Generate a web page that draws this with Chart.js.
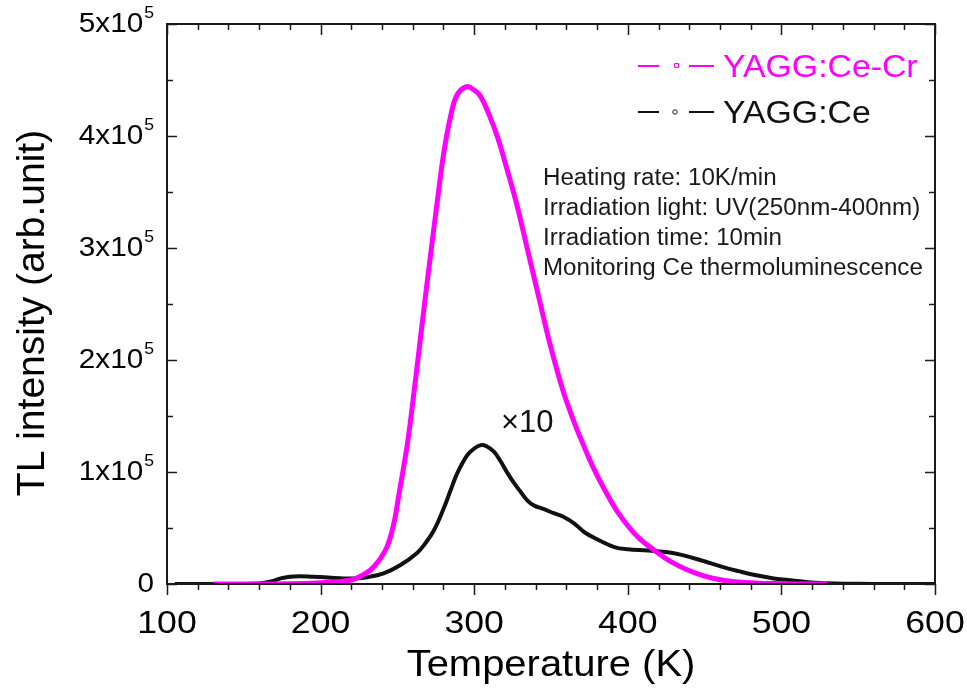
<!DOCTYPE html>
<html>
<head>
<meta charset="utf-8">
<script src="https://cdn.jsdelivr.net/npm/chart.js@4.4.0/dist/chart.umd.min.js"></script>
<style>
html,body{margin:0;padding:0;background:#fff;}
#wrap{width:967px;height:690px;position:relative;}
</style>
</head>
<body>
<div id="wrap"><canvas id="c"></canvas></div>
<script>
// ---- data ----
const tempCeCr = [130,160,180,198,210,220,226,232.5,238,243.5,248,251,256.5,260,263.5,267.3,271.7,276,280.2,284.7,289,295,300,304.3,310,315.2,321,327.5,334.8,342.4,349,357.5,365.2,373.9,380,387,393,400,408,417.4,428,439,450,461,472,482.5,495,510,530];
const intensityCeCr = [0,0,300,1000,2000,3600,7000,12500,21000,34000,56000,80000,125000,162000,202000,246000,295000,342000,385000,418000,437000,444000,441000,435000,418000,399000,372000,340000,298000,254000,216000,174000,144000,115000,97000,79000,65000,52000,40000,30000,20000,12500,7000,3600,1800,1000,400,100,0];

const tempCe = [105,112,130,150,160,167,174,180,186,195,205,215,222,230,241,252,263,268,273.8,280.3,285,289,295.5,300,304.3,308,313,317,321.7,326,330.4,335,339.1,345,352.2,358,365.2,372,380,391.3,400,413,425,435,448,461,472,482.7,495,504.4,515,522,535,550,570,600];
const intensityCe = [0,0,0,0,500,2000,5000,6500,7000,6500,5800,5000,5000,6000,9500,17000,28000,36000,48000,68000,85000,99000,115000,121000,124000,123000,118000,110000,99000,90000,82000,74000,70000,67000,63000,60000,54000,46000,40000,33000,31000,30000,28500,26000,21000,15500,11500,8000,5000,3600,2000,1200,500,200,0,0];

const seriesNames = ['YAGG:Ce-Cr','YAGG:Ce'];
const seriesColors = ['#ff00ff','#111111'];
const xTickLabels = [100,200,300,400,500,600];
const xMinorStep = 20;
const yTickValues = [0,100000,200000,300000,400000,500000];
const yTickMantissa = ['0','1x10','2x10','3x10','4x10','5x10'];
const yTickExponent = ['','5','5','5','5','5'];
const yMinorStep = 50000;
const noteLines = ['Heating rate: 10K/min','Irradiation light: UV(250nm-400nm)','Irradiation time: 10min','Monitoring Ce thermoluminescence'];
const scaleNote = '\u00d710';
const xTitle = 'Temperature (K)';
const yTitle = 'TL intensity (arb.unit)';

const FONT = '"Liberation Sans", Arial, sans-serif';

function pts(xs, ys){ return xs.map((x,i)=>({x:x,y:ys[i]})); }

// draw text stretched horizontally by sx; align: 'left' | 'center' | 'right'
function stretchText(ctx, text, x, y, sx, align){
  const w = ctx.measureText(text).width * sx;
  let left = x;
  if (align === 'center') left = x - w/2;
  else if (align === 'right') left = x - w;
  ctx.save();
  ctx.translate(left, y);
  ctx.scale(sx, 1);
  ctx.textAlign = 'left';
  ctx.fillText(text, 0, 0);
  ctx.restore();
  return w;
}

const decor = {
  id:'decor',
  afterDraw(chart){
    const ctx = chart.ctx;
    const xs = chart.scales.x, ys = chart.scales.y;
    const a = chart.chartArea;
    ctx.save();
    ctx.textBaseline = 'alphabetic';
    // frame
    ctx.strokeStyle = '#1a1a1a';
    ctx.lineWidth = 2;
    ctx.strokeRect(a.left, a.top, a.right - a.left, a.bottom - a.top);
    // x ticks
    ctx.lineWidth = 1.5;
    for (let v = xs.min; v <= xs.max + 0.001; v += xMinorStep){
      const px = Math.round(xs.getPixelForValue(v)) + 0.5;
      const major = Math.abs(v % 100) < 0.001;
      const len = major ? 11 : 6;
      ctx.beginPath();
      ctx.moveTo(px, a.bottom); ctx.lineTo(px, a.bottom + len);
      ctx.moveTo(px, a.top); ctx.lineTo(px, a.top + len);
      ctx.stroke();
    }
    // y ticks
    for (let v = ys.min; v <= ys.max + 1; v += yMinorStep){
      const py = Math.round(ys.getPixelForValue(v)) + 0.5;
      const major = Math.abs(v % 100000) < 1;
      const len = major ? 10 : 6;
      ctx.beginPath();
      ctx.moveTo(a.left, py); ctx.lineTo(a.left + len, py);
      ctx.moveTo(a.right, py); ctx.lineTo(a.right - len, py);
      ctx.stroke();
    }
    // x tick labels
    ctx.fillStyle = '#000';
    ctx.font = '31px ' + FONT;
    xTickLabels.forEach(v=>{
      stretchText(ctx, String(v), xs.getPixelForValue(v), 633, 1.15, 'center');
    });
    // y tick labels with superscript
    const rightEdge = 154;
    yTickValues.forEach((v,i)=>{
      const py = ys.getPixelForValue(v);
      let sw = 0;
      if (yTickExponent[i]){
        ctx.font = '16px ' + FONT;
        sw = stretchText(ctx, yTickExponent[i], rightEdge, py - 6, 1.1, 'right');
      }
      ctx.font = '27px ' + FONT;
      stretchText(ctx, yTickMantissa[i], rightEdge - sw - (sw ? 1 : 0), py + 8, 1.1, 'right');
    });
    // axis titles
    ctx.font = '37px ' + FONT;
    stretchText(ctx, xTitle, (a.left + a.right)/2, 676, 1.08, 'center');
    ctx.save();
    ctx.translate(44, 313);
    ctx.rotate(-Math.PI/2);
    ctx.font = '39px ' + FONT;
    ctx.textAlign = 'center';
    ctx.fillText(yTitle, 0, 0);
    ctx.restore();
    // legend
    const legY = [66, 112];
    seriesNames.forEach((name,i)=>{
      const y = legY[i];
      ctx.strokeStyle = seriesColors[i];
      ctx.lineWidth = 2;
      ctx.beginPath();
      ctx.moveTo(638, y); ctx.lineTo(659, y);
      ctx.moveTo(689, y); ctx.lineTo(714, y);
      ctx.stroke();
      ctx.lineWidth = 1;
      ctx.beginPath();
      if (i === 0) { ctx.rect(674.5, y - 2.5, 4, 4); }
      else { ctx.arc(675, y, 2.2, 0, Math.PI*2); }
      ctx.stroke();
      ctx.fillStyle = seriesColors[i];
      ctx.font = '31px ' + FONT;
      stretchText(ctx, name, 723, y + 11, 1.09, 'left');
    });
    // notes
    ctx.fillStyle = '#1a1a1a';
    ctx.font = '23px ' + FONT;
    noteLines.forEach((t,i)=> stretchText(ctx, t, 543, 185 + i*30, 1.05, 'left'));
    // x10
    ctx.fillStyle = '#111';
    ctx.font = '31px ' + FONT;
    stretchText(ctx, scaleNote, 501, 432, 1.0, 'left');
    ctx.restore();
  }
};

new Chart(document.getElementById('c'), {
  type: 'line',
  data: {
    datasets: [
      { label: seriesNames[0], data: pts(tempCeCr, intensityCeCr), borderColor: seriesColors[0], borderWidth: 5, pointRadius: 0, tension: 0.4, fill: false },
      { label: seriesNames[1], data: pts(tempCe, intensityCe), borderColor: seriesColors[1], borderWidth: 4, pointRadius: 0, tension: 0.4, fill: false }
    ]
  },
  options: {
    responsive: true,
    maintainAspectRatio: false,
    animation: false,
    layout: { padding: { left: 0, right: 32, top: 24, bottom: 0 } },
    plugins: { legend: { display: false }, tooltip: { enabled: false } },
    scales: {
      x: { type: 'linear', min: 100, max: 600, grid: { display: false }, border: { display: false }, ticks: { display: false },
           afterFit(s){ s.height = 106; } },
      y: { type: 'linear', min: 0, max: 500000, grid: { display: false }, border: { display: false }, ticks: { display: false },
           afterFit(s){ s.width = 167; } }
    }
  },
  plugins: [decor]
});
</script>
</body>
</html>
